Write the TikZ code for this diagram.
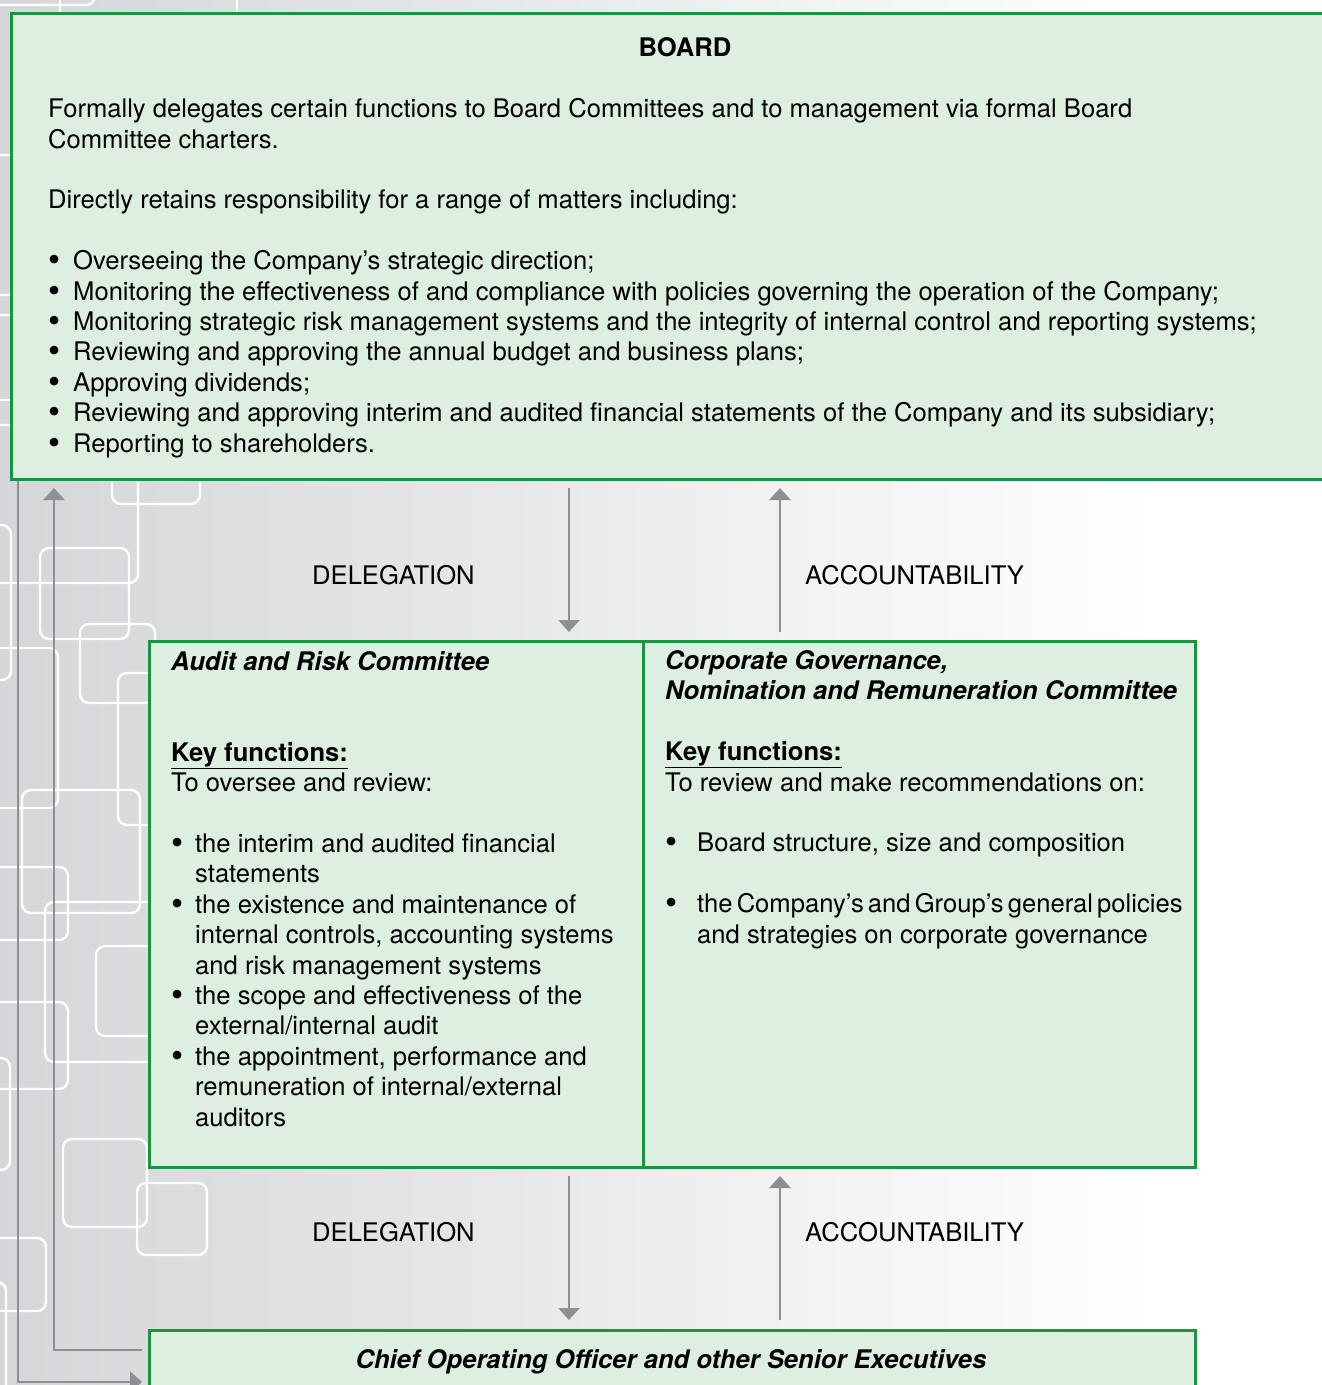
\documentclass[tikz,border=0pt]{standalone}
\usepackage{fontspec}
\setmainfont{TeX Gyre Heros}
\usetikzlibrary{arrows.meta,positioning}
\definecolor{boxgreen}{RGB}{24,150,62}
\definecolor{boxfill}{RGB}{220,239,224}
\definecolor{flowgray}{RGB}{142,143,147}
\definecolor{bggray}{RGB}{213,214,217}
\newcommand{\bt}[1]{\makebox[#1][l]{\raisebox{-0.08em}{\scalebox{1.35}{\textbullet}}}}
\tikzset{
  govbox/.style={draw=boxgreen, fill=boxfill, line width=3pt, inner sep=0pt, anchor=north west},
  flow/.style={draw=flowgray, line width=2.6pt, -{Triangle[width=21pt,length=12pt]}},
  deco/.style={draw=white, line width=2.4pt, rounded corners=9pt},
  body/.style={font=\fontsize{25.6}{30.4}\selectfont, align=left, anchor=base west, inner sep=0pt},
  tag/.style={font=\fontsize{25.6}{30.4}\selectfont, anchor=base west, inner sep=0pt},
}
\begin{document}
\begin{tikzpicture}[x=1pt,y=-1pt]
\useasboundingbox (0,0) rectangle (1322,1385);
%%% background
\fill[white] (0,0) rectangle (1322,1385);
\shade[left color=bggray, right color=white] (0,0) rectangle (1160,1385);
% the white frames on the left
\draw[deco] (-40,-30) rectangle (95,5);
\draw[deco] (60,-30) rectangle (237,60);
\draw[deco] (-40,155) rectangle (30,295);
\draw[deco] (-40,315) rectangle (30,425);
\draw[deco] (112,440) rectangle (200,504);
\draw[deco] (-40,400) rectangle (138,583);
\draw[deco] (-40,525) rectangle (11,680);
\draw[deco] (40,548) rectangle (129,639);
\draw[deco] (80,624) rectangle (155,703);
\draw[deco] (-40,648) rectangle (58,808);
\draw[deco] (118,673) rectangle (200,825);
\draw[deco] (22,790) rectangle (140,913);
\draw[deco] (-40,867) rectangle (68,940);
\draw[deco] (45,902) rectangle (200,1062);
\draw[deco] (96,946) rectangle (200,1036);
\draw[deco] (-40,1002) rectangle (68,1089);
\draw[deco] (-40,1058) rectangle (10,1170);
\draw[deco] (63,1139) rectangle (147,1227);
\draw[deco] (137,1183) rectangle (207,1255);
\draw[deco] (-40,1238) rectangle (46,1311);
\draw[deco] (-40,1282) rectangle (6,1420);

%%% the boxes
\node[govbox, minimum width=1330pt, minimum height=466pt] (board) at (10,12) {};
\node[govbox, minimum width=494pt, minimum height=526pt] (arc) at (148,640) {};
\node[govbox, minimum width=552pt, minimum height=526pt] (cgnr) at (642,640) {};
\node[govbox, minimum width=1046pt, minimum height=100pt] (coo) at (148,1329) {};

% base of a text block sits on its last line
\node[tag, anchor=base] (boardtitle) at (685,56) {\textbf{BOARD}};
\node[body] (boardtext) at (48,452) {Formally delegates certain functions to Board Committees and to management via formal Board\\
Committee charters.\\[30.4pt]
Directly retains responsibility for a range of matters including:\\[30.4pt]
\bt{25pt}Overseeing the Company’s strategic direction;\\
\bt{25pt}Monitoring the effectiveness of and compliance with policies governing the operation of the Company;\\
\bt{25pt}Monitoring strategic risk management systems and the integrity of internal control and reporting systems;\\
\bt{25pt}Reviewing and approving the annual budget and business plans;\\
\bt{25pt}Approving dividends;\\
\bt{25pt}Reviewing and approving interim and audited financial statements of the Company and its subsidiary;\\
\bt{25pt}Reporting to shareholders.};

\node[body] (arctext) at (171,1126) {\textbf{\textit{Audit and Risk Committee}}\\[60.8pt]
\underline{\textbf{Key functions:}}\\
To oversee and review:\\[30.4pt]
\bt{24pt}the interim and audited financial\\
\hspace*{24pt}statements\\
\bt{24pt}the existence and maintenance of\\
\hspace*{24pt}internal controls, accounting systems\\
\hspace*{24pt}and risk management systems\\
\bt{24pt}the scope and effectiveness of the\\
\hspace*{24pt}external/internal audit\\
\bt{24pt}the appointment, performance and\\
\hspace*{24pt}remuneration of internal/external\\
\hspace*{24pt}auditors};

\node[body] (cgnrtext) at (665,943) {\textbf{\textit{Corporate Governance,}}\\
\textbf{\textit{Nomination and Remuneration Committee}}\\[30.4pt]
\underline{\textbf{Key functions:}}\\
To review and make recommendations on:\\[30.4pt]
\bt{32pt}Board structure, size and composition\\[30.4pt]
\bt{32pt}{\spaceskip=0.16em\relax the Company’s and Group’s general policies}\\
\hspace*{32pt}and strategies on corporate governance};

\node[tag, anchor=base] (cootitle) at (671,1368) {\textbf{\textit{Chief Operating Officer and other Senior Executives}}};

%%% delegation and accountability
\coordinate (dx) at (569,0);
\coordinate (ax) at (780,0);
\draw[flow, shorten <=7pt, shorten >=8pt] (board.south -| dx) -- (arc.north -| dx);
\draw[flow, shorten <=8pt, shorten >=7pt] (cgnr.north -| ax) -- (board.south -| ax);
\draw[flow, shorten <=7pt, shorten >=9pt] (arc.south -| dx) -- (coo.north -| dx);
\draw[flow, shorten <=9pt, shorten >=7pt] (coo.north -| ax) -- (cgnr.south -| ax);
\node[tag] (dlgtop) at (312,584) {DELEGATION};
\node[tag] (acctop) at (805,584) {ACCOUNTABILITY};
\node[tag] (dlgbot) at (312,1241) {DELEGATION};
\node[tag] (accbot) at (805,1241) {ACCOUNTABILITY};

% lines down the left side
\coordinate (rin) at (142,1350);
\coordinate (rout) at (142,1382);
\draw[flow, shorten >=7pt] (rin) -| ([xshift=44pt]board.south west);
\draw[flow] ([xshift=8pt]board.south west) |- (rout);
\end{tikzpicture}
\end{document}
